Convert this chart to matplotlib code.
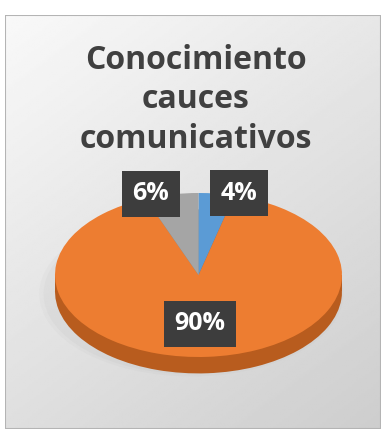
import numpy as np
import matplotlib
matplotlib.use("Agg")
import matplotlib.pyplot as plt
from matplotlib.patches import Rectangle, Ellipse

# datos
categorias = ["Sí", "No", "No sabe"]
valores = [4, 90, 6]
colores = ["#5B9BD5", "#ED7D31", "#A5A5A5"]
colores_lado = ["#3f75a8", "#b85c1e", "#7d7d7d"]
etiquetas = ["4%", "90%", "6%"]
titulo = "Conocimiento\ncauces\ncomunicativos"

W, H = 384, 429
fig = plt.figure(figsize=(W / 100, H / 100), dpi=100)
fig.patch.set_facecolor("white")

# fondo con degradado (panel de Excel)
bg = fig.add_axes([5 / W, 0, 376 / W, 414 / H])
yy, xx = np.mgrid[0:1:200j, 0:1:200j]
grad = 0.975 - 0.17 * (0.4 * xx + 0.6 * yy)
bg.imshow(grad, cmap="gray", vmin=0, vmax=1, aspect="auto", extent=[0, 1, 0, 1],
          origin="upper")
bg.add_patch(Rectangle((0, 0), 1, 1, transform=bg.transAxes, fill=False,
                       edgecolor="#b4b4b4", linewidth=1.5))
bg.set_xticks([])
bg.set_yticks([])
for s in bg.spines.values():
    s.set_visible(False)

fig.text(196 / W, 1 - 100 / H, titulo, ha="center", va="center",
         fontsize=23, color="#404040", family="Open Sans", weight="bold",
         linespacing=1.27)

# pastel "3D": elipse aplastada
cx, cy = 198.5, 275
rx, ry = 143.5, 82
lim = 1.3
ax = fig.add_axes([(cx - lim * rx) / W, (H - cy - lim * ry) / H,
                   2 * lim * rx / W, 2 * lim * ry / H])

d = 0.2  # grosor del disco
# sombra suave a la izquierda
for k, a in [(1.06, 0.04), (1.03, 0.05)]:
    ax.add_patch(Ellipse((-0.05, -d - 0.03), 2 * k, 2 * k * 0.95,
                         facecolor="#808080", alpha=a, edgecolor="none"))

ax.pie(valores, colors=colores_lado, startangle=90, counterclock=False,
       center=(0, -d), radius=1, wedgeprops=dict(linewidth=0), frame=True)
ax.add_patch(Rectangle((-1, -d), 2, d, facecolor=colores_lado[1],
                       edgecolor="none"))
wedges, _ = ax.pie(valores, colors=colores, startangle=90, counterclock=False,
                   radius=1, wedgeprops=dict(linewidth=0), frame=True)
ax.set_xlim(-lim, lim)
ax.set_ylim(-lim, lim)
ax.set_aspect("auto")
ax.axis("off")

# posiciones de las etiquetas (px de la imagen)
pos_etq = [(239, 193), (200, 324), (151, 194)]
for txt, (px, py) in zip(etiquetas, pos_etq):
    ax.text((px - cx) / rx, (cy - py) / ry, txt, ha="center", va="center",
            fontsize=18, color="white", weight="bold", family="Open Sans",
            bbox=dict(boxstyle="square,pad=0.42", facecolor="#3d3d3d",
                      edgecolor="none"))

fig.savefig("out.png", dpi=100)
